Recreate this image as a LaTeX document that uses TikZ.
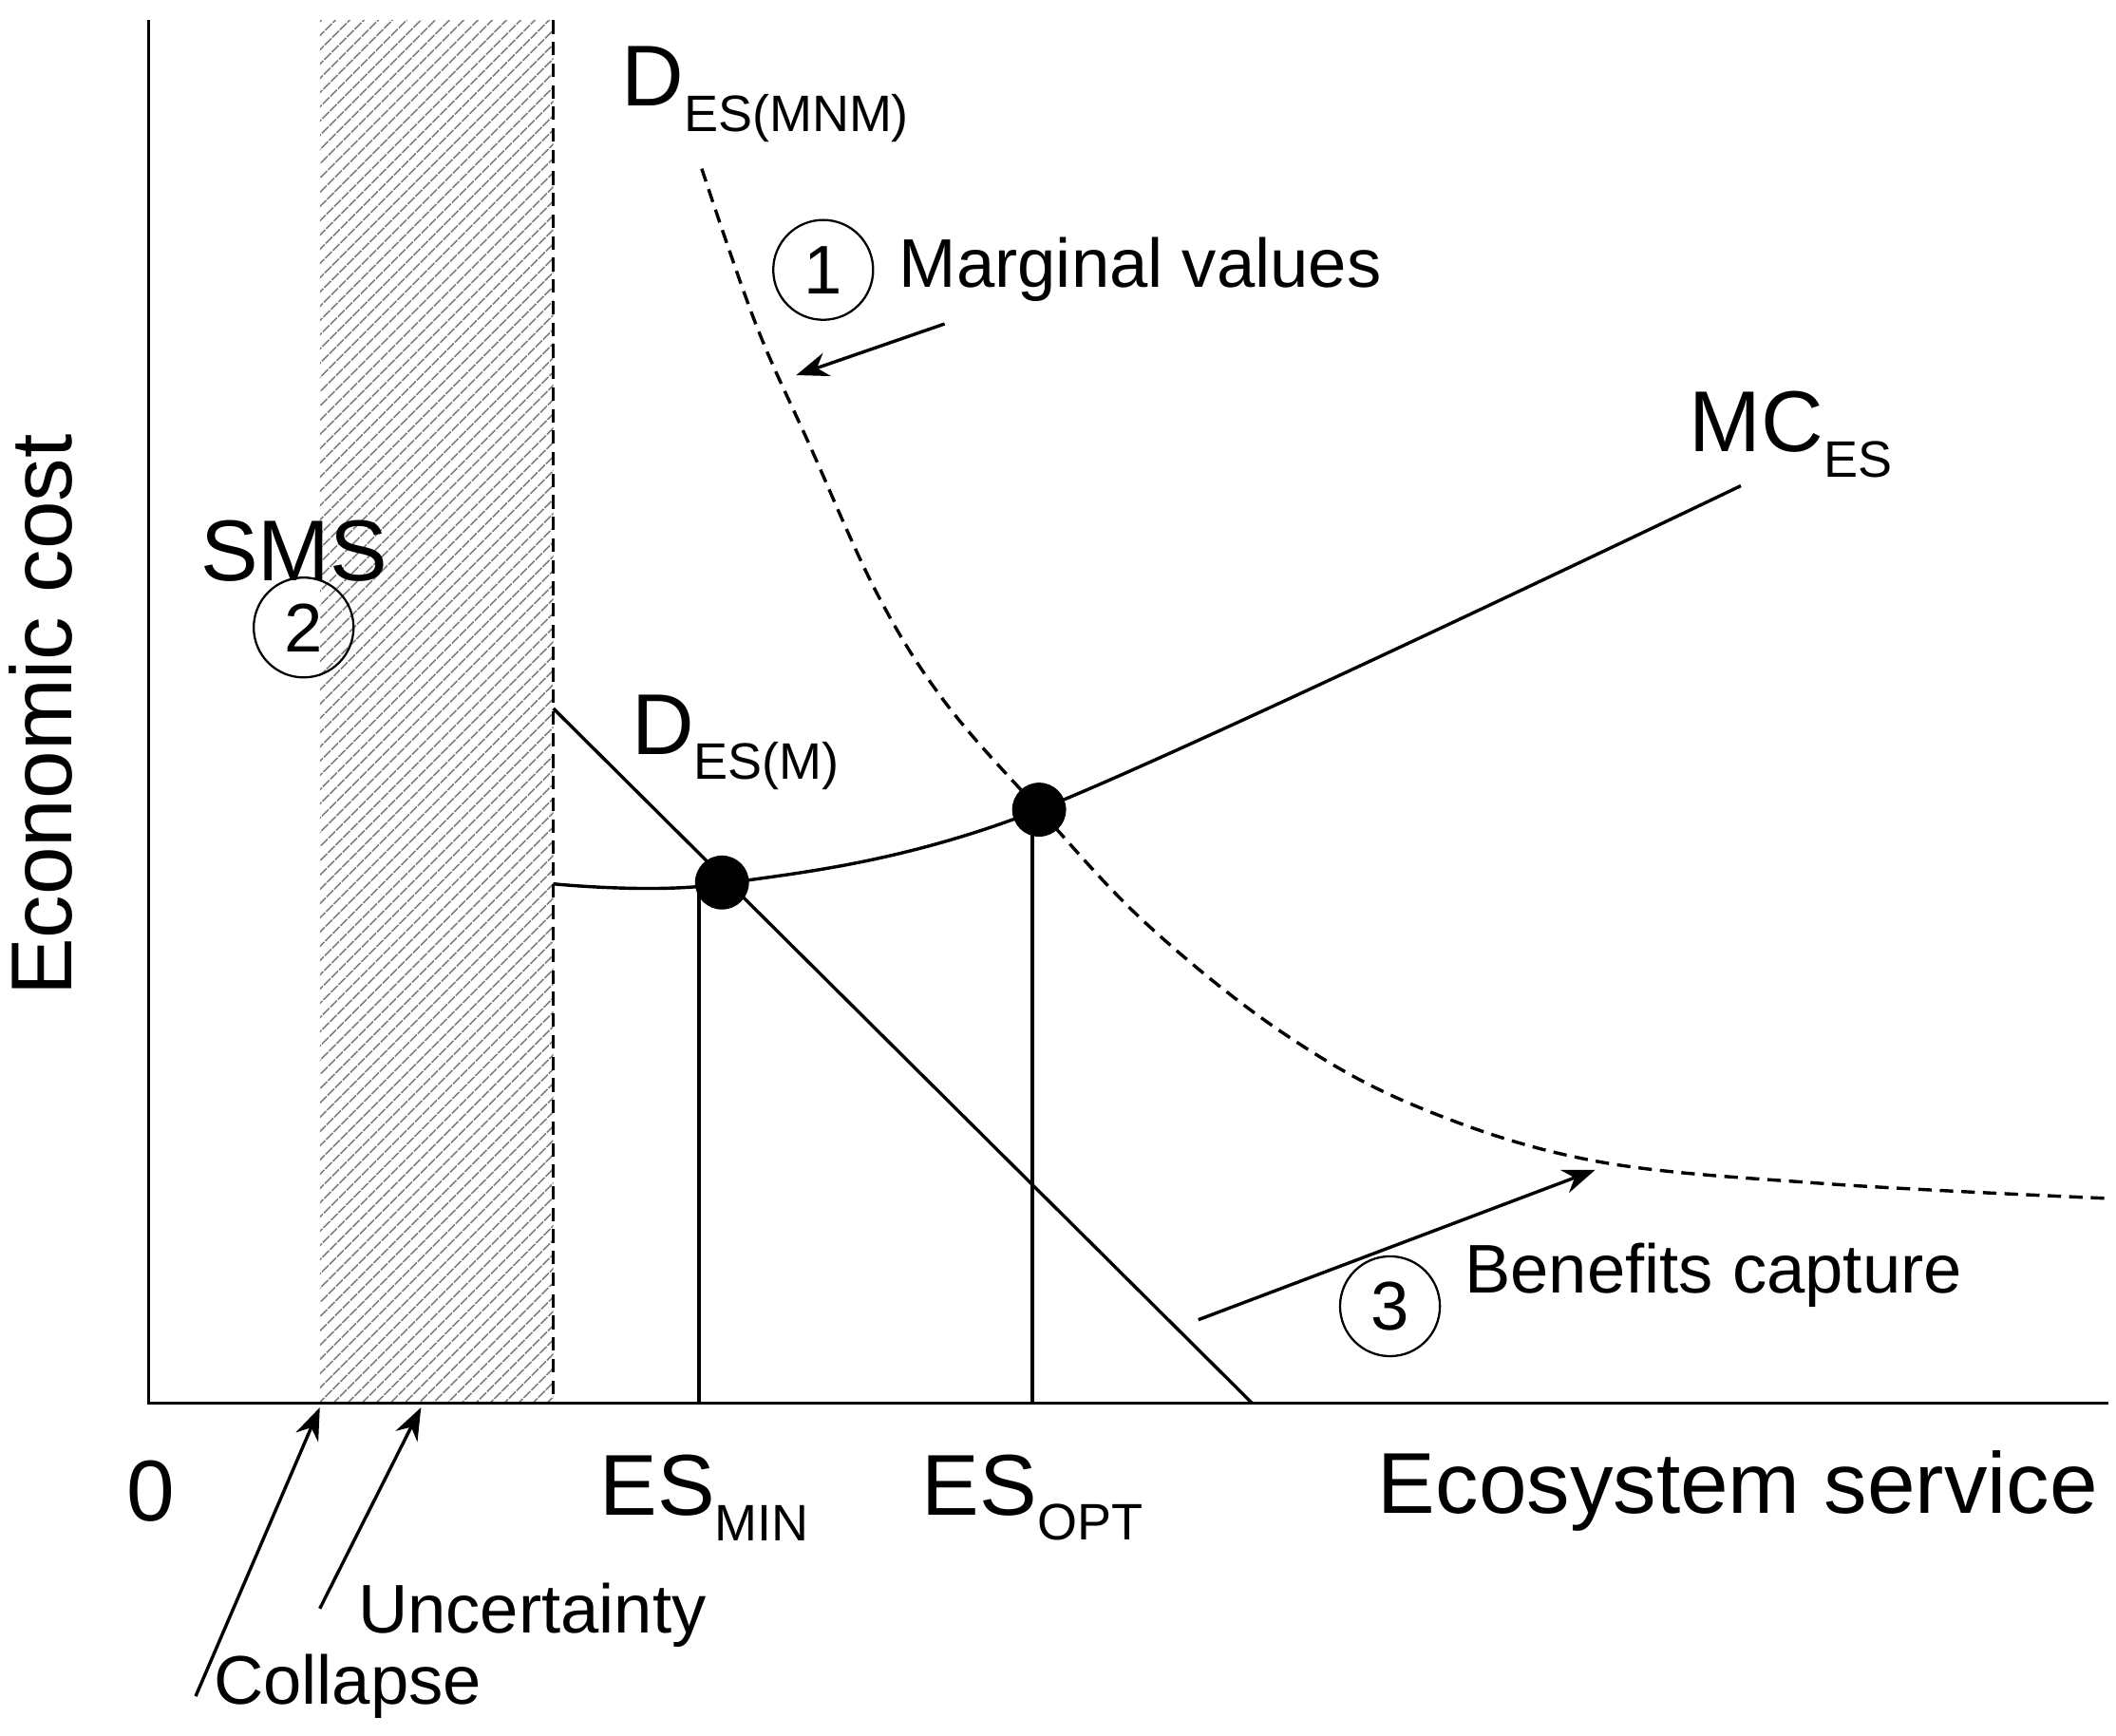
\documentclass[tikz,border=0pt]{standalone}
\usepackage{fontspec}
\setmainfont{Liberation Sans}
\usetikzlibrary{patterns.meta,arrows.meta}
\newcommand{\sub}[1]{\raisebox{-0.55ex}{\fontsize{19}{19}\selectfont #1}}
\begin{document}
\begin{tikzpicture}[x=0.5pt,y=-0.5pt,
  med/.style={font=\fontsize{25.5}{29}\selectfont, inner sep=0},
  big/.style={font=\fontsize{32}{36}\selectfont, inner sep=0},
  num/.style={circle,draw,thick,minimum size=37pt,inner sep=0,font=\fontsize{25.5}{29}\selectfont},
  ln/.style={line width=1.2pt},
  dsh/.style={ln,dash pattern=on 5pt off 3pt},
  arr/.style={ln,-{Stealth[length=12pt,width=9pt]}},
  dot/.style={circle,fill=black,minimum size=20pt,inner sep=0}]
\useasboundingbox (0,0) rectangle (1568,1286);
% hatched band
\fill[pattern={Lines[angle=45,distance=4pt,line width=0.7pt]},pattern color=gray] (237,15) rectangle (410,1040);
\draw[dsh] (410,15) -- (410,1040);
% axes
\coordinate (top) at (110,15);
\coordinate (org) at (110,1040);
\coordinate (xend) at (1562,1040);
\draw[ln] (top) -- (org) -- (xend);
% demand curve (dashed)
\draw[dsh] plot[smooth,tension=0.6] coordinates {(520,125) (560,240) (600,330) (650,440) (700,520) (770,600) (850,685) (950,765) (1050,820) (1180,860) (1350,877) (1560,888)};
% MC curve
\draw[ln] plot[smooth,tension=0.5] coordinates {(410,655) (535,655) (770,600) (1290,360)};
% D_ES(M)
\coordinate (dm1) at (410,525);
\coordinate (dm2) at (928,1040);
\draw[ln] (dm1) -- (dm2);
% dots
\node[dot] (p1) at (535,654) {};
\node[dot] (p2) at (770,600) {};
\coordinate (b1) at (518,1040);
\coordinate (b2) at (765,1040);
\draw[ln] (518,654) -- (b1);
\draw[ln] (765,605) -- (b2);
% labels
\node[big] (lab0) at (112,1105) {0};
\node[big,anchor=east] (labx) at (1555,1105) {Ecosystem service};
\node[big,rotate=90] (laby) at (30,530) {Economic cost};
\node[big] (esmin) at (522,1110) {ES\sub{MIN}};
\node[big] (esopt) at (765,1110) {ES\sub{OPT}};
\node[big] (dmnm) at (567,70) {D\sub{ES(MNM)}};
\node[big] (dmm) at (545,550) {D\sub{ES(M)}};
\node[big] (mces) at (1327,322) {MC\sub{ES}};
\node[big] (sms) at (218,408) {SMS};
\node[num] (c2) at (225,465) {2};
\node[num] (c1) at (610,200) {1};
\node[med,anchor=west] (mv) at (666,200) {Marginal values};
\coordinate (a1s) at (700,240);
\coordinate (a1e) at (590,278);
\draw[arr] (a1s) -- (a1e);
\node[num] (c3) at (1030,968) {3};
\node[med,anchor=west] (bc) at (1085,945) {Benefits capture};
\coordinate (a3s) at (888,978);
\coordinate (a3e) at (1182,867);
\draw[arr] (a3s) -- (a3e);
\node[med,anchor=west] (col) at (158,1250) {Collapse};
\node[med,anchor=west] (unc) at (265,1197) {Uncertainty};
\coordinate (ccs) at (145,1257);
\coordinate (cce) at (237,1043);
\draw[arr] (ccs) -- (cce);
\coordinate (ucs) at (237,1192);
\coordinate (uce) at (312,1043);
\draw[arr] (ucs) -- (uce);
\end{tikzpicture}
\end{document}
